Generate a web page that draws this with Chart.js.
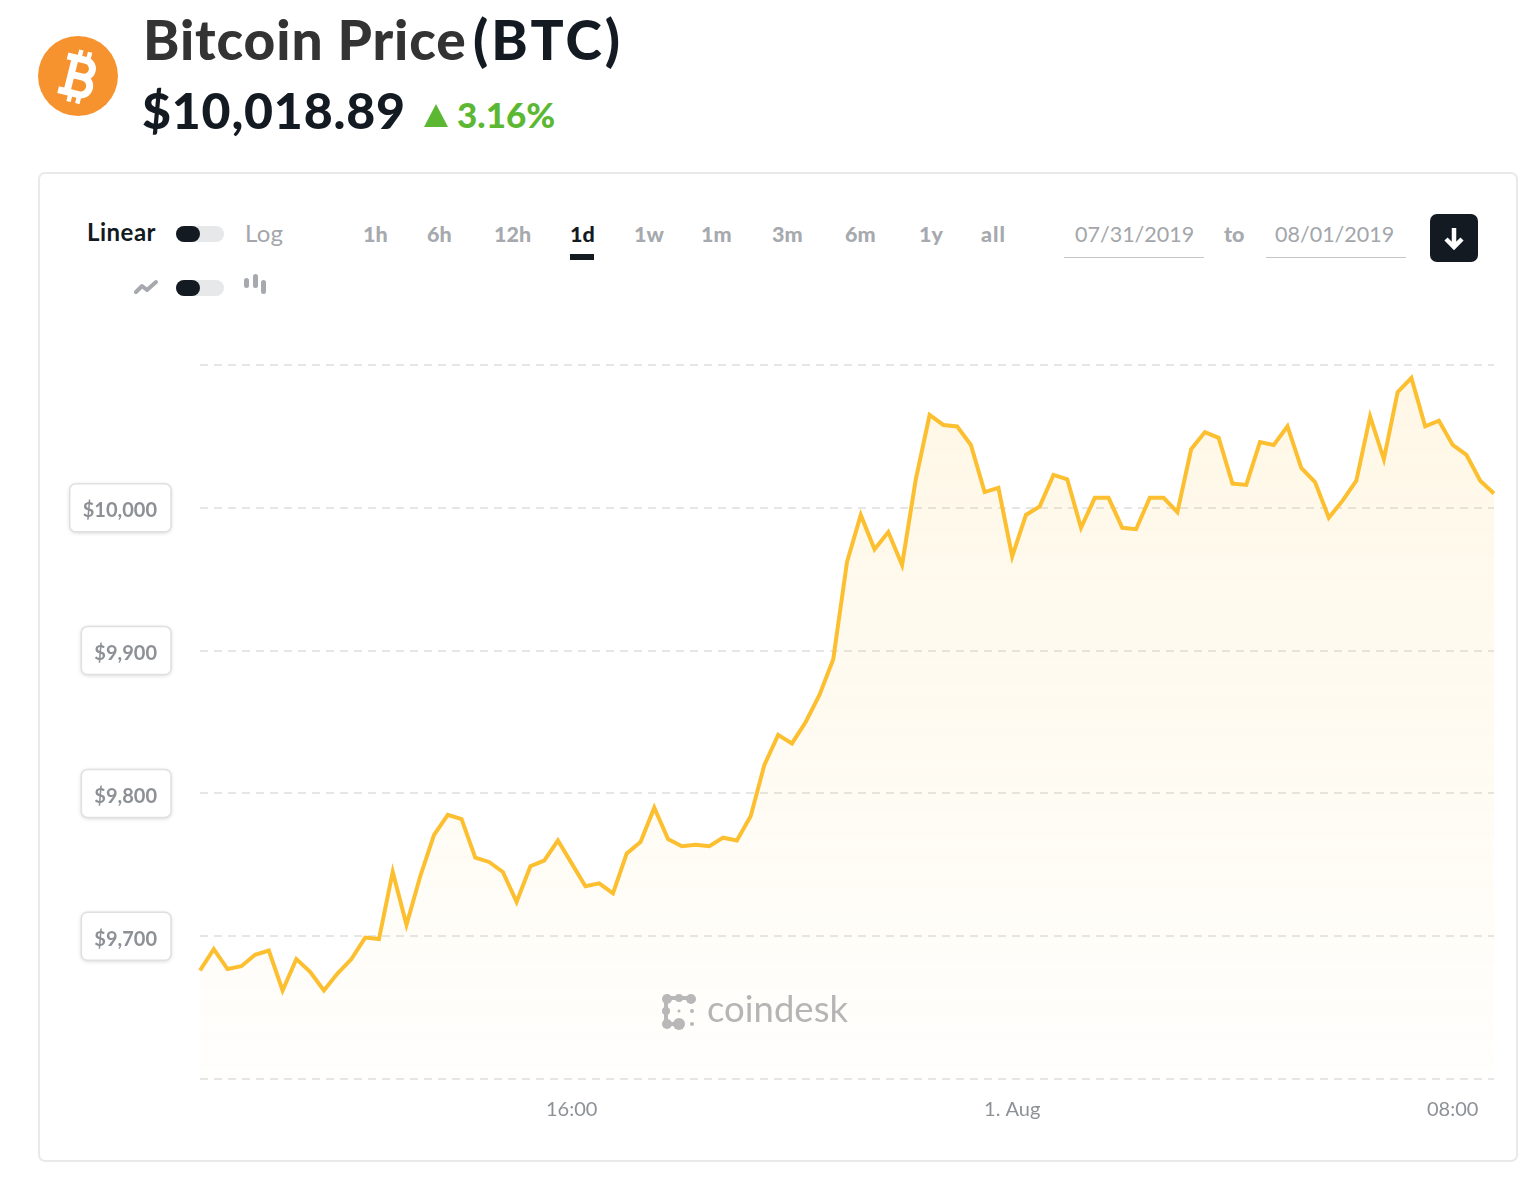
<!DOCTYPE html>
<html lang="en">
<head>
    <meta charset="UTF-8">
    <title>Bitcoin Price (BTC)</title>
    <script src="https://cdn.jsdelivr.net/npm/chart.js@4/dist/chart.umd.min.js"></script>
    <style>
        html, body { margin: 0; background: #fff; }
        body { position: relative; width: 1524px; height: 1190px; overflow: hidden; font-family: Lato, sans-serif; }
        .t { position: absolute; white-space: nowrap; line-height: 1; }
        .range { font-size: 21.5px; font-weight: 900; color: #a6a9ad; top: 224px; }
        .date { font-size: 21.5px; color: #a3a6aa; top: 224px; }
        .line { position: absolute; height: 1px; background: #c4c6c8; top: 257px; }
        .track { position: absolute; left: 176px; width: 48px; height: 16px; border-radius: 8px; background: #e7e8ea; }
        .knob { position: absolute; left: 0; top: 0; width: 24px; height: 16px; border-radius: 8px; background: #131a22; }
        #panel { position: absolute; left: 38px; top: 172px; width: 1480px; height: 990px; border: 2px solid #e8e9eb; border-radius: 7px; box-sizing: border-box; }
        canvas { position: absolute; left: 40px; top: 340px; }
    </style>
</head>
<body>
    <svg style="position:absolute;left:38px;top:36px" width="80" height="80" viewBox="-40 -40 80 80">
        <circle r="40" fill="#f7932e"/>
        <g transform="rotate(14)" fill="none" stroke="#fff" stroke-width="7">
            <path d="M-15,-17 H4 a8,8 0 0 1 0,17 H-7 M-7,0 H5 a9,9 0 0 1 0,18 H-16 M-7,-17 V18"/>
            <path stroke-width="4.5" d="M-3,-26 V-17 M6,-26 V-17 M-3,18 V27 M6,18 V27"/>
        </g>
    </svg>
    <div class="t" style="left:143px;top:12px;font-size:55px;font-weight:900;color:#333;letter-spacing:0.9px">Bitcoin Price</div>
    <div class="t" style="left:473px;top:12px;font-size:55px;font-weight:900;color:#131a22;letter-spacing:3px">(BTC)</div>
    <div class="t" style="left:142px;top:85px;font-size:50px;font-weight:900;color:#131a22;letter-spacing:0.8px">$10,018.89</div>
    <svg style="position:absolute;left:424px;top:104px" width="24" height="23"><path d="M12,0 L24,23 H0 Z" fill="#5cb832"/></svg>
    <div class="t" style="left:457px;top:97px;font-size:35px;font-weight:900;color:#5cb832">3.16%</div>

    <div id="panel"></div>

    <div class="t" style="left:87px;top:220px;font-size:24px;font-weight:700;color:#131a22;letter-spacing:0.5px">Linear</div>
    <div class="track" style="top:226px"><div class="knob"></div></div>
    <div class="t" style="left:245px;top:221px;font-size:24px;color:#a3a6aa;letter-spacing:0.3px">Log</div>
    <svg style="position:absolute;left:134px;top:279px" width="24" height="16"><path d="M2,13 L8,7 L13,11 L22,3" fill="none" stroke="#a6a9ad" stroke-width="4" stroke-linejoin="round" stroke-linecap="round"/></svg>
    <div class="track" style="top:280px"><div class="knob"></div></div>
    <svg style="position:absolute;left:244px;top:274px" width="24" height="21" fill="#a6a9ad"><rect x="0" y="4" width="5" height="10" rx="2.5"/><rect x="9" y="0" width="5" height="14" rx="2.5"/><rect x="17" y="6" width="5" height="14" rx="2.5"/></svg>

    <div class="t range" style="left:363px">1h</div>
    <div class="t range" style="left:427px">6h</div>
    <div class="t range" style="left:494px">12h</div>
    <div class="t range" style="left:570px;color:#131a22">1d</div>
    <div style="position:absolute;left:570px;top:254px;width:24px;height:6px;background:#131a22"></div>
    <div class="t range" style="left:634px">1w</div>
    <div class="t range" style="left:701px">1m</div>
    <div class="t range" style="left:772px">3m</div>
    <div class="t range" style="left:845px">6m</div>
    <div class="t range" style="left:919px">1y</div>
    <div class="t range" style="left:981px;letter-spacing:1px">all</div>

    <div class="t date" style="left:1075px">07/31/2019</div>
    <div class="line" style="left:1064px;width:140px"></div>
    <div class="t range" style="left:1224px">to</div>
    <div class="t date" style="left:1275px">08/01/2019</div>
    <div class="line" style="left:1266px;width:140px"></div>
    <svg style="position:absolute;left:1430px;top:214px" width="48" height="48"><rect width="48" height="48" rx="7" fill="#131a22"/><path d="M24,14 V32 M16,25 L24,33 L32,25" fill="none" stroke="#fff" stroke-width="4.5"/></svg>

    <canvas id="chart" width="1476" height="800"></canvas>

    <svg style="position:absolute;left:660px;top:992px" width="38" height="40" fill="#b8b8b8">
        <path d="M7,6 H30 M6,6 V31 M7,32 H17" fill="none" stroke="#b8b8b8" stroke-width="4"/>
        <circle cx="7" cy="7" r="5"/><circle cx="19" cy="6" r="4"/><circle cx="31" cy="7" r="5"/>
        <circle cx="6" cy="19" r="4"/><circle cx="7" cy="32" r="5"/><circle cx="19" cy="32" r="6"/>
        <circle cx="19" cy="19" r="1.5"/><circle cx="32" cy="19" r="2"/><circle cx="32" cy="32" r="2"/>
    </svg>
    <div class="t" style="left:707px;top:990px;font-size:36.5px;color:#b5b5b5">coindesk</div>

    <script>
        // quarter-hour samples, 09:15 on 31 July through 08:45 on 1 Aug
        const times = [
            "09:15","09:30","09:45","10:00","10:15","10:30","10:45","11:00","11:15","11:30",
            "11:45","12:00","12:15","12:30","12:45","13:00","13:15","13:30","13:45","14:00",
            "14:15","14:30","14:45","15:00","15:15","15:30","15:45","16:00","16:15","16:30",
            "16:45","17:00","17:15","17:30","17:45","18:00","18:15","18:30","18:45","19:00",
            "19:15","19:30","19:45","20:00","20:15","20:30","20:45","21:00","21:15","21:30",
            "21:45","22:00","22:15","22:30","22:45","23:00","23:15","23:30","23:45","1. Aug",
            "00:15","00:30","00:45","01:00","01:15","01:30","01:45","02:00","02:15","02:30",
            "02:45","03:00","03:15","03:30","03:45","04:00","04:15","04:30","04:45","05:00",
            "05:15","05:30","05:45","06:00","06:15","06:30","06:45","07:00","07:15","07:30",
            "07:45","08:00","08:15","08:30","08:45"
        ];
        const prices = [
            9676,9691,9677,9679,9687,9690,9662,9684,9675,9662,
            9674,9684,9699,9698,9745,9708,9742,9771,9785,9782,
            9755,9752,9745,9724,9749,9753,9767,9751,9735,9737,
            9730,9758,9766,9790,9768,9763,9764,9763,9769,9767,
            9784,9820,9841,9835,9850,9869,9894,9962,9995,9971,
            9983,9960,10020,10065,10058,10057,10044,10011,10014,9966,
            9995,10001,10023,10020,9986,10007,10007,9986,9985,10007,
            10007,9997,10041,10053,10049,10017,10016,10046,10044,10057,
            10028,10018,9993,10005,10019,10064,10034,10081,10091,10057,
            10061,10044,10037,10019,10010
        ];
        const xTickLabels = ["16:00", "1. Aug", "08:00"];
        const yTickValues = [9700, 9800, 9900, 10000];

        const labelFont = "700 20px Lato, sans-serif";

        // white rounded boxes sitting behind the price labels
        const labelBoxes = {
            id: "labelBoxes",
            beforeDraw(chart) {
                const ctx = chart.ctx, scale = chart.scales.y, right = 117;
                ctx.save();
                ctx.font = labelFont;
                yTickValues.forEach(v => {
                    const w = ctx.measureText(scale.options.ticks.callback(v)).width;
                    const y = scale.getPixelForValue(v);
                    ctx.beginPath();
                    ctx.roundRect(right - w - 13, y - 24, w + 27, 48, 6);
                    ctx.shadowColor = "rgba(0,0,0,0.18)";
                    ctx.shadowBlur = 4;
                    ctx.shadowOffsetY = 1;
                    ctx.fillStyle = "#fff";
                    ctx.fill();
                    ctx.shadowColor = "transparent";
                    ctx.strokeStyle = "#e0e0e0";
                    ctx.lineWidth = 1.5;
                    ctx.stroke();
                });
                ctx.restore();
            }
        };

        const ctx = document.getElementById("chart").getContext("2d");
        new Chart(ctx, {
            type: "line",
            data: {
                labels: times,
                datasets: [{
                    data: prices,
                    borderColor: "#fcbf30",
                    borderWidth: 4,
                    borderJoinStyle: "miter",
                    pointRadius: 0,
                    tension: 0,
                    fill: "start",
                    backgroundColor(c) {
                        const area = c.chart.chartArea;
                        if (!area) return "rgba(252,191,48,0.1)";
                        const g = c.chart.ctx.createLinearGradient(0, area.top, 0, area.bottom);
                        g.addColorStop(0, "rgba(252,191,48,0.12)");
                        g.addColorStop(1, "rgba(252,191,48,0.01)");
                        return g;
                    }
                }]
            },
            options: {
                responsive: false,
                animation: false,
                layout: { padding: { top: 25, right: 22, left: 0, bottom: 0 } },
                plugins: { legend: { display: false }, tooltip: { enabled: false } },
                scales: {
                    x: {
                        grid: { display: false },
                        border: { display: false },
                        afterFit(scale) { scale.height = 61; },
                        ticks: {
                            autoSkip: false,
                            maxRotation: 0,
                            padding: 11,
                            color: "#8d9196",
                            font: { family: "Lato, sans-serif", size: 20 },
                            callback(v) {
                                const label = this.getLabelForValue(v);
                                return xTickLabels.includes(label) ? label : "";
                            }
                        }
                    },
                    y: {
                        min: 9600,
                        max: 10100,
                        // the big tick padding must not push the plot area down
                        afterFit(scale) { scale.width = 160; scale.paddingTop = 0; scale.paddingBottom = 0; },
                        border: { display: false, dash: [8, 6] },
                        grid: { color: "#e6e6e6", lineWidth: 2, drawTicks: false },
                        ticks: {
                            stepSize: 100,
                            padding: 43,
                            labelOffset: 3,
                            color: "#8d9196",
                            font: { family: "Lato, sans-serif", size: 20, weight: "700" },
                            callback(v) {
                                return yTickValues.includes(v) ? "$" + v.toLocaleString("en-US") : "";
                            }
                        }
                    }
                }
            },
            plugins: [labelBoxes]
        });
    </script>
</body>
</html>
